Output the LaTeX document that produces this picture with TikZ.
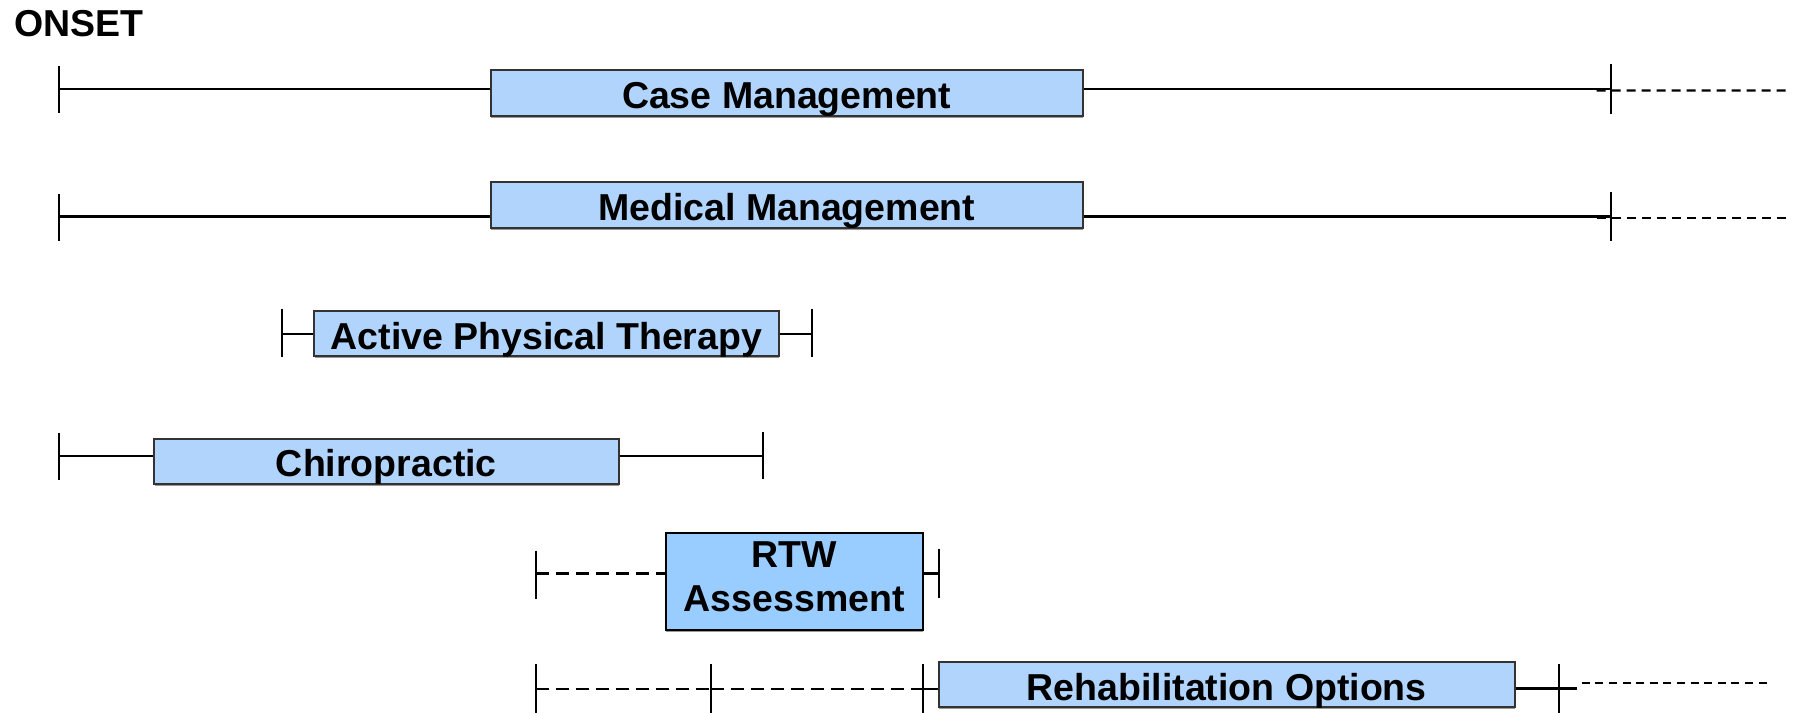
\documentclass[tikz,border=0pt]{standalone}
\usepackage{fontspec}
\setmainfont{Liberation Sans}
\usetikzlibrary{shadows}
\definecolor{boxfill}{HTML}{B0D4FB}
\definecolor{rtwfill}{HTML}{99CCFF}
\definecolor{boxline}{HTML}{333333}
\newcommand{\shifttxt}[2]{\vphantom{#2}\smash{\raisebox{#1}{#2}}}
\newcommand{\lowtxt}[1]{\shifttxt{-2.9pt}{#1}}
\begin{document}
\begin{tikzpicture}[x=0.5pt,y=-0.5pt,
  bar/.style={draw=boxline,line width=1pt,fill=boxfill,inner sep=0pt,
    align=center,font=\bfseries\fontsize{18.75}{21.9}\selectfont,
    drop shadow={shadow xshift=0.3pt,shadow yshift=-0.9pt,fill=black!40,opacity=1}},
  span/.style={line width=1.2pt},
  dsh/.style={line width=1.2pt,dash pattern=on 6.5pt off 3.5pt},
  dshr/.style={line width=1.1pt,dash pattern=on 4.5pt off 3pt},
  dshf/.style={line width=1pt,dash pattern=on 4pt off 2.8pt},
  tickln/.style={line width=1pt},
]
\useasboundingbox (0,0) rectangle (1806,713);

\node[anchor=base west,font=\bfseries\fontsize{18.75}{21.9}\selectfont,inner sep=0pt] (onset) at (13.8,36.9) {ONSET};

% Row 1
\node[bar,minimum width=296pt,minimum height=23pt] (cm) at (786.7,93.3) {\lowtxt{Case Management}};
\coordinate (c1l) at (58.7,88.7);
\coordinate (c1r) at (1610.5,88.7);
\coordinate (c1e) at (1786.7,90.5);
\draw[tickln] (58.7,65.7) -- (58.7,112.9);
\draw[tickln] (1610.5,64) -- (1610.5,114);
\draw[span] (c1l) -- (c1l -| cm.west);
\draw[span] (c1r -| cm.east) -- (c1r);
\draw[dshr] ([xshift=-7pt,yshift=-0.9pt]c1r) -- (c1e);

% Row 2
\node[bar,minimum width=296pt,minimum height=23pt] (mm) at (786.7,205) {\lowtxt{Medical Management}};
\coordinate (c2l) at (58.7,216.5);
\coordinate (c2r) at (1610.5,216.5);
\coordinate (c2e) at (1786.7,218.3);
\draw[tickln] (58.7,193.5) -- (58.7,240.7);
\draw[tickln] (1610.5,192.3) -- (1610.5,240.7);
\draw[span] (c2l) -- (c2l -| mm.west);
\draw[span] (c2r -| mm.east) -- (c2r);
\draw[dshr] ([xshift=-7pt,yshift=-0.9pt]c2r) -- (c2e);

% Row 3
\node[bar,minimum width=232.1pt,minimum height=22.45pt] (apt) at (546.5,333.5) {\lowtxt{Active Physical Therapy}};
\coordinate (c3l) at (282.2,334);
\coordinate (c3r) at (812,334);
\draw[tickln] (282.2,308.7) -- (282.2,357);
\draw[tickln] (812,308.7) -- (812,357);
\draw[span] (c3l) -- (c3l -| apt.west);
\draw[span] (c3r -| apt.east) -- (c3r);

% Row 4
\node[bar,minimum width=232.1pt,minimum height=22.5pt] (chi) at (386.4,461.3) {\lowtxt{Chiropractic}};
\coordinate (c4l) at (58.7,456.1);
\coordinate (c4r) at (762.5,456.1);
\draw[tickln] (58.7,433) -- (58.7,480.3);
\draw[tickln] (762.5,431.9) -- (762.5,479);
\draw[span] (c4l) -- (c4l -| chi.west);
\draw[span] (c4r -| chi.east) -- (c4r);

% Row 5
\node[bar,fill=rtwfill,draw=black,minimum width=128.5pt,minimum height=48.35pt] (rtw) at (794.2,581.7)
  {\shifttxt{0.6pt}{\begin{tabular}{@{}c@{}}RTW\\Assessment\end{tabular}}};
\coordinate (c5l) at (535.6,573.6);
\coordinate (c5r) at (938.7,573.6);
\draw[tickln] (535.6,550.6) -- (535.6,599);
\draw[tickln] (938.7,549.4) -- (938.7,597.8);
\draw[dsh] (c5l) -- (c5l -| rtw.west);
\draw[span] (c5r -| rtw.east) -- (c5r);

% Row 6
\node[bar,minimum width=288pt,minimum height=22.45pt] (reh) at (1226.7,684.8) {\lowtxt{Rehabilitation Options}};
\coordinate (c6a) at (535.6,688.8);
\coordinate (c6b) at (710.7,688.8);
\coordinate (c6c) at (922.6,688.8);
\coordinate (c6r) at (1558.8,688.6);
\coordinate (c6s) at (1581.7,682.8);
\coordinate (c6e) at (1771.7,682.8);
\draw[tickln] (535.6,664) -- (535.6,713);
\draw[tickln] (710.7,664) -- (710.7,713);
\draw[tickln] (922.6,664) -- (922.6,713);
\draw[tickln] (1558.8,664) -- (1558.8,713);
\draw[dsh] (c6a) -- (c6b);
\draw[dsh] (c6b) -- (c6c);
\draw[span] (c6c) -- (c6c -| reh.west);
\draw[span] (c6r -| reh.east) -- ([xshift=9pt]c6r);
\draw[dshf] (c6s) -- (c6e);
\end{tikzpicture}
\end{document}
